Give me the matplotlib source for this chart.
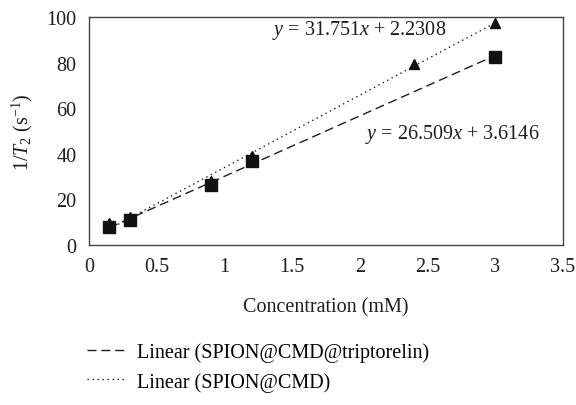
import matplotlib
matplotlib.use("Agg")
import matplotlib.pyplot as plt
from matplotlib.lines import Line2D
import numpy as np

plt.rcParams['font.family'] = ['Liberation Serif', 'DejaVu Serif']
plt.rcParams['mathtext.fontset'] = 'custom'
plt.rcParams['mathtext.rm'] = 'Liberation Serif'
plt.rcParams['mathtext.it'] = 'Liberation Serif:italic'

# Data
conc_cmd = [0.15, 0.3, 0.9, 1.2, 2.4, 3.0]
r2_cmd = [9.5, 12.3, 28, 39, 79.4, 97.4]
conc_trip = [0.15, 0.3, 0.9, 1.2, 3.0]
r2_trip = [7.9, 11.0, 26.3, 36.8, 82.5]
slope_cmd, icpt_cmd = 31.751, 2.2308
slope_trip, icpt_trip = 26.509, 3.6146
label_trip = "Linear (SPION@CMD@triptorelin)"
label_cmd = "Linear (SPION@CMD)"
eq_cmd = r"$y$ = 31.751$x$ + 2.2308"
eq_trip = r"$y$ = 26.509$x$ + 3.6146"
xtick_vals = [0, 0.5, 1, 1.5, 2, 2.5, 3, 3.5]
xtick_labels = ['0', '0.5', '1', '1.5', '2', '2.5', '3', '3.5']
ytick_vals = [0, 20, 40, 60, 80, 100]

dash = (0, (6.5, 3.5))
dots = (0, (1, 2.6))
ink = '#1e1e1e'

fig = plt.figure(figsize=(5.76, 4.06), dpi=100)
ax = fig.add_axes([89/576, 1-246/406, (563-89)/576, (246-18)/406])

fs = 14.5
xs = np.array([min(conc_cmd), max(conc_cmd)])
ax.plot(xs, slope_cmd*xs + icpt_cmd, linestyle=dots, color=ink, lw=1.0, zorder=2)
xs2 = np.array([min(conc_trip), max(conc_trip)])
ax.plot(xs2, slope_trip*xs2 + icpt_trip, linestyle=dash, color=ink, lw=1.0, zorder=2)

ax.plot(conc_cmd, r2_cmd, linestyle='none', marker='^', ms=7, color='#111111', zorder=3)
ax.plot(conc_trip, r2_trip, linestyle='none', marker='s', ms=8, color='#111111', zorder=4)

ax.set_xlim(0, 3.5)
ax.set_ylim(0, 100)
ax.set_xticks(xtick_vals)
ax.set_xticklabels(xtick_labels)
ax.set_yticks(ytick_vals)
ax.tick_params(length=0, labelsize=fs, colors=ink)
ax.tick_params(axis='y', pad=9)
ax.tick_params(axis='x', pad=9)
for s in ax.spines.values():
    s.set_color('#444444')
    s.set_linewidth(1.0)

ax.set_xlabel("Concentration (mM)", fontsize=fs, labelpad=15, color=ink)
ax.set_ylabel(r"1/$T_2$ (s$^{-1}$)", fontsize=fs, labelpad=8, color=ink)

ax.text(1.35, 94.7, eq_cmd, fontsize=fs, va='center', ha='left', color=ink)
ax.text(2.04, 48.7, eq_trip, fontsize=fs, va='center', ha='left', color=ink)

handles = [Line2D([0], [0], linestyle=dash, color=ink, lw=1.0),
           Line2D([0], [0], linestyle=dots, color=ink, lw=1.0)]
fig.legend(handles, [label_trip, label_cmd], loc='upper left',
           bbox_to_anchor=(87/576, 1-343/406), frameon=False, fontsize=fs,
           borderpad=0, borderaxespad=0,
           handlelength=1.85, handletextpad=0.65, labelspacing=0.5)

fig.savefig("out.png", dpi=100)
